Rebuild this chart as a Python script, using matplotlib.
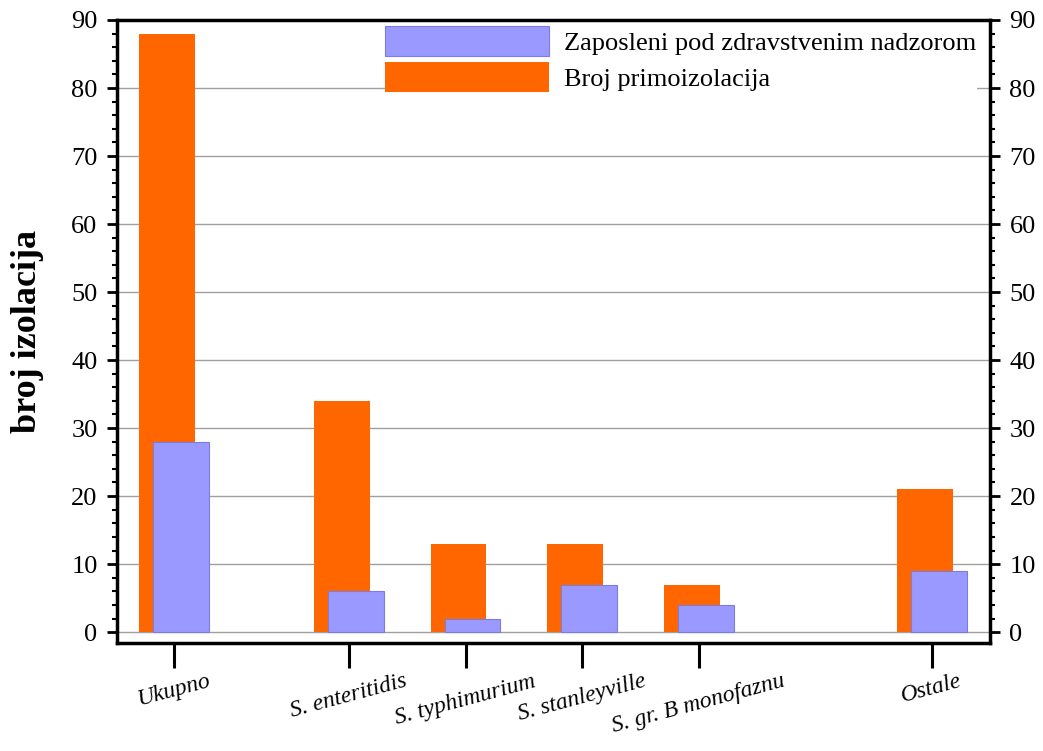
import numpy as np
import matplotlib.pyplot as plt
from matplotlib.ticker import MultipleLocator

categories = ['Ukupno', 'S. enteritidis', 'S. typhimurium', 'S. stanleyville',
              'S. gr. B monofaznu', 'Ostale']
positions = [0, 1.5, 2.5, 3.5, 4.5, 6.5]
primo = [88, 34, 13, 13, 7, 21]        # Broj primoizolacija
zaposleni = [28, 6, 2, 7, 4, 9]        # Zaposleni pod zdravstvenim nadzorom

plt.rcParams['font.family'] = ['Liberation Serif', 'DejaVu Serif']

fig = plt.figure(figsize=(10.43, 7.51), dpi=100)
ax = fig.add_axes([117/1043, 1-643/751, (990-117)/1043, (643-20)/751])

x = np.array(positions)
w = 0.48
off = 0.06
ax.bar(x - off, primo, w, color='#ff6600', zorder=2, label='Broj primoizolacija')
ax.bar(x + off, zaposleni, w, color='#9999ff', edgecolor='#7b7be0', linewidth=0.8,
       zorder=3, label='Zaposleni pod zdravstvenim nadzorom')

ax.set_xlim(-0.49, 7.0)
ax.set_ylim(-1.6, 90)
ax.set_yticks(np.arange(0, 91, 10))
ax.yaxis.set_minor_locator(MultipleLocator(2))
for g in range(0, 90, 10):
    ax.axhline(g, color='#a0a0a0', linewidth=1, zorder=1)

ax.set_xticks(positions)
ax.set_xticklabels(categories, rotation=15, style='italic', fontsize=17,
                   ha='center', va='top')

for s in ax.spines.values():
    s.set_linewidth(2.5)
ax.tick_params(axis='y', which='major', direction='out', length=7, width=2,
               left=True, right=True, labelleft=True, labelright=True,
               labelsize=19, pad=7)
ax.tick_params(axis='y', which='minor', direction='out', length=3.5, width=1.5,
               left=True, right=True)
ax.tick_params(axis='x', which='major', direction='out', length=18, width=2.2,
               pad=2)

fig.text(28/1043, 1-331/751, 'broj izolacija', rotation=90, fontsize=26,
         fontweight='bold', ha='center', va='center')

h, l = ax.get_legend_handles_labels()
leg = ax.legend(h[::-1], l[::-1], loc='upper left',
                bbox_to_anchor=((385-117)/873, (643-26)/623),
                borderpad=0, borderaxespad=0, fontsize=19,
                handlelength=6.2, handleheight=1.35, handletextpad=0.6,
                labelspacing=0.25, frameon=True, fancybox=False)
leg.get_frame().set_edgecolor('none')
leg.get_frame().set_facecolor('white')
leg.get_frame().set_alpha(1)

fig.savefig('out.png', dpi=100)
